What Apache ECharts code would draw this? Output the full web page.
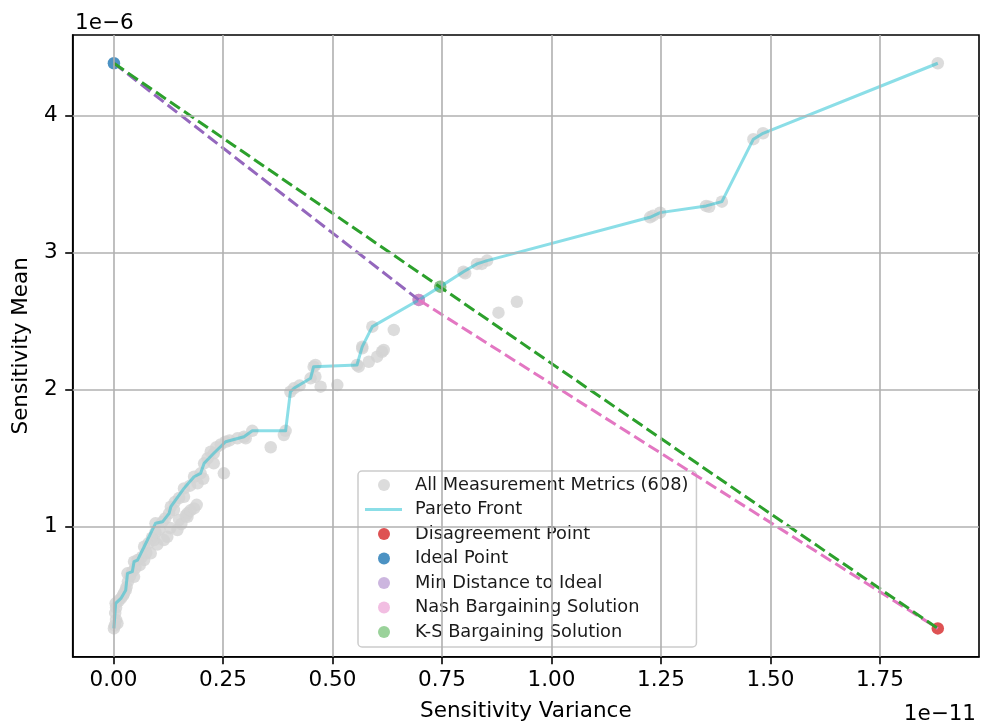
<!DOCTYPE html>
<html>
<head>
<meta charset="utf-8">
<script src="https://cdn.jsdelivr.net/npm/echarts@6/dist/echarts.min.js"></script>
<style>
  html, body { margin: 0; padding: 0; background: #fff; }
  #chart { width: 981px; height: 724px; }
</style>
</head>
<body>
<div id="chart"></div>
<script>
// Variance values are in units of 1e-11, mean values in units of 1e-6.

// Non-dominated metrics, ordered by variance
const paretoFront = [
  [0.001, 0.258], [0.005, 0.441], [0.017, 0.477], [0.028, 0.537], [0.032, 0.660],
  [0.043, 0.672], [0.047, 0.745], [0.055, 0.757], [0.070, 0.854], [0.096, 1.025],
  [0.112, 1.036], [0.127, 1.098], [0.131, 1.146], [0.161, 1.280], [0.184, 1.365],
  [0.199, 1.390], [0.207, 1.463], [0.229, 1.536], [0.256, 1.620], [0.298, 1.657],
  [0.317, 1.700], [0.393, 1.700], [0.404, 1.985], [0.412, 2.010], [0.450, 2.083],
  [0.457, 2.168], [0.556, 2.180], [0.568, 2.314], [0.591, 2.460], [0.697, 2.655],
  [0.746, 2.752], [0.799, 2.861], [0.830, 2.918], [0.853, 2.942], [1.225, 3.258],
  [1.248, 3.292], [1.353, 3.341], [1.389, 3.372], [1.461, 3.828], [1.483, 3.871],
  [1.882, 4.382]
];

// Dominated metrics
const otherMetrics = [
  [0.003, 0.280], [0.006, 0.320], [0.004, 0.370], [0.006, 0.410], [0.012, 0.460],
  [0.009, 0.295], [0.022, 0.500], [0.024, 0.514], [0.030, 0.560], [0.033, 0.600],
  [0.038, 0.640], [0.047, 0.635], [0.050, 0.700], [0.060, 0.720], [0.065, 0.780],
  [0.070, 0.757], [0.075, 0.810], [0.080, 0.880], [0.085, 0.806], [0.088, 0.920],
  [0.093, 0.903], [0.096, 0.960], [0.100, 0.870], [0.105, 0.980], [0.115, 0.903],
  [0.118, 1.060], [0.123, 0.927], [0.130, 0.990], [0.138, 1.122], [0.140, 1.180],
  [0.146, 0.976], [0.150, 1.050], [0.150, 1.210], [0.155, 1.020], [0.161, 1.219],
  [0.165, 1.080], [0.169, 1.098], [0.169, 1.073], [0.175, 1.300], [0.176, 1.120],
  [0.184, 1.134], [0.190, 1.160], [0.192, 1.317], [0.205, 1.350], [0.215, 1.500],
  [0.222, 1.547], [0.229, 1.463], [0.235, 1.580], [0.245, 1.600], [0.252, 1.390],
  [0.265, 1.630], [0.283, 1.645], [0.302, 1.645], [0.359, 1.580], [0.389, 1.669],
  [0.425, 2.030], [0.461, 2.095], [0.461, 2.180], [0.473, 2.022], [0.511, 2.034],
  [0.560, 2.168], [0.568, 2.302], [0.583, 2.204], [0.602, 2.241], [0.613, 2.277],
  [0.617, 2.290], [0.640, 2.436], [0.803, 2.850], [0.841, 2.918], [0.879, 2.562],
  [0.921, 2.642], [1.232, 3.270], [1.360, 3.335]
];

const disagreementPoint = [1.882, 0.258];
const idealPoint = [0.001, 4.382];
const minDistancePoint = [0.697, 2.655];
const nashPoint = [0.697, 2.655];
const ksPoint = [0.746, 2.752];

const xTicks = [0, 0.25, 0.5, 0.75, 1.0, 1.25, 1.5, 1.75];
const yTicks = [1, 2, 3, 4];

const allMetrics = paretoFront.concat(otherMetrics);

// 5% padding around the data extent on both axes
function paddedRange(points, dim) {
  const vals = points.map(p => p[dim]);
  const lo = Math.min(...vals), hi = Math.max(...vals);
  const pad = (hi - lo) * 0.05;
  return [lo - pad, hi + pad];
}
const everyPoint = allMetrics.concat([disagreementPoint, idealPoint]);
const xRange = paddedRange(everyPoint, 0);
const yRange = paddedRange(everyPoint, 1);

const FONT = '"DejaVu Sans", "Liberation Sans", sans-serif';
const TICK_FONT = 21.5;
const GRID_STYLE = { color: '#b0b0b0', width: 1.6, type: 'solid' };

function dot(name, data, color, z) {
  return {
    name, type: 'scatter', data, symbol: 'circle', symbolSize: 12.5,
    itemStyle: { color }, z, silent: true
  };
}
function dashed(name, data, color) {
  return {
    name, type: 'line', data, symbol: 'none', z: 4, silent: true,
    lineStyle: { color, width: 3, type: [12, 5], cap: 'butt' }
  };
}

const chart = echarts.init(document.getElementById('chart'), null, { renderer: 'canvas' });

chart.setOption({
  animation: false,
  backgroundColor: '#fff',
  grid: {
    left: 72.7, right: 2, top: 35, bottom: 67.3,
    outerBoundsMode: 'none', containLabel: false,
    show: true, borderColor: '#000', borderWidth: 1.6, backgroundColor: 'transparent'
  },
  xAxis: {
    type: 'value', min: xRange[0], max: xRange[1],
    axisLine: { onZero: false, lineStyle: { color: '#000', width: 1.6 } },
    axisTick: { show: true, length: 7.5, customValues: xTicks, lineStyle: { color: '#000', width: 1.6 } },
    axisLabel: {
      customValues: xTicks, formatter: v => v.toFixed(2),
      fontSize: TICK_FONT, fontFamily: FONT, color: '#000', margin: 23.5, verticalAlign: 'middle'
    },
    splitLine: { show: false },
    name: 'Sensitivity Variance', nameLocation: 'middle', nameGap: 55,
    nameTextStyle: { fontSize: TICK_FONT, fontFamily: FONT, color: '#000', verticalAlign: 'middle' }
  },
  yAxis: {
    type: 'value', min: yRange[0], max: yRange[1],
    axisLine: { onZero: false, lineStyle: { color: '#000', width: 1.6 } },
    axisTick: { show: true, length: 7.5, customValues: yTicks, lineStyle: { color: '#000', width: 1.6 } },
    axisLabel: {
      customValues: yTicks, formatter: v => String(Math.round(v)),
      fontSize: TICK_FONT, fontFamily: FONT, color: '#000', margin: 15
    },
    splitLine: { show: false },
    name: 'Sensitivity Mean', nameLocation: 'middle', nameGap: 51, nameRotate: 90,
    nameTextStyle: { fontSize: TICK_FONT, fontFamily: FONT, color: '#000', verticalAlign: 'middle' }
  },
  legend: {
    orient: 'vertical', left: 358, top: 471,
    padding: [4, 8, 5, 0], itemGap: 4.5, itemWidth: 52, itemHeight: 12,
    backgroundColor: 'rgba(255,255,255,0.8)', borderColor: '#cccccc', borderWidth: 1.5, borderRadius: 4,
    textStyle: { fontSize: 17.8, fontFamily: FONT, color: '#1a1a1a', lineHeight: 20 },
    selectedMode: false,
    data: [
      { name: 'All Measurement Metrics (608)', icon: 'circle' },
      { name: 'Pareto Front', icon: 'path://M0,0L0,0M7,4.6L44,4.6L44,7.4L7,7.4ZM52,12L52,12',
        itemStyle: { color: 'rgba(23,190,207,0.5)' } },
      { name: 'Disagreement Point', icon: 'circle' },
      { name: 'Ideal Point', icon: 'circle' },
      { name: 'Min Distance to Ideal', icon: 'circle' },
      { name: 'Nash Bargaining Solution', icon: 'circle' },
      { name: 'K-S Bargaining Solution', icon: 'circle' }
    ]
  },
  graphic: [
    { type: 'text', left: 75, top: 12, silent: true,
      style: { text: '1e\u22126', font: TICK_FONT + 'px ' + FONT, fill: '#000' } },
    { type: 'text', right: 5, top: 703, silent: true,
      style: { text: '1e\u221211', font: TICK_FONT + 'px ' + FONT, fill: '#000' } }
  ],
  series: [
    {
      // grid lines at the tick positions
      name: 'gridlines', type: 'line', data: [], z: 0, silent: true,
      markLine: {
        silent: true, symbol: ['none', 'none'], animation: false,
        label: { show: false }, emphasis: { disabled: true },
        lineStyle: GRID_STYLE,
        data: xTicks.map(v => ({ xAxis: v })).concat(yTicks.map(v => ({ yAxis: v })))
      }
    },
    dot('All Measurement Metrics (608)', allMetrics, '#d3d3d3', 1),
    {
      name: 'Pareto Front', type: 'line', data: paretoFront, symbol: 'none', z: 3, silent: true,
      lineStyle: { color: 'rgba(23,190,207,0.5)', width: 3, join: 'round' }
    },
    dot('Disagreement Point', [disagreementPoint], '#d62728', 2),
    dot('Ideal Point', [idealPoint], '#1f77b4', 2),
    dot('Min Distance to Ideal', [minDistancePoint], 'rgba(148,103,189,0.6)', 2),
    dot('Nash Bargaining Solution', [nashPoint], 'rgba(227,119,194,0.6)', 2),
    dot('K-S Bargaining Solution', [ksPoint], 'rgba(44,160,44,0.6)', 2),
    dashed('ideal-to-min-distance', [idealPoint, minDistancePoint], '#9467bd'),
    dashed('nash-to-disagreement', [nashPoint, disagreementPoint], '#e377c2'),
    dashed('ideal-to-disagreement', [idealPoint, disagreementPoint], '#2ca02c')
  ]
});
</script>
</body>
</html>
